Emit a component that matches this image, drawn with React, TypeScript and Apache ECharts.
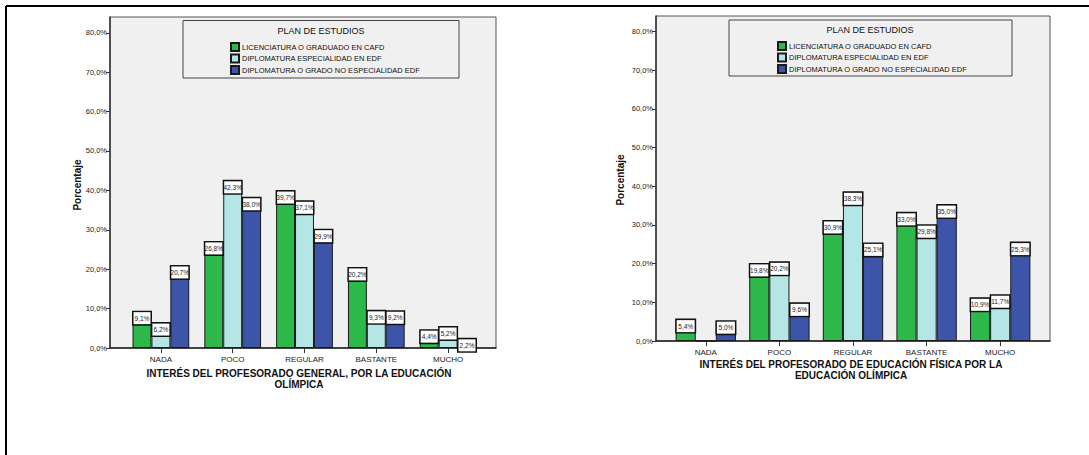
import React, { useEffect, useRef } from "react";
import * as echarts from "echarts";

const categories = ["NADA", "POCO", "REGULAR", "BASTANTE", "MUCHO"];
const seriesNames = [
  "LICENCIATURA O GRADUADO EN CAFD",
  "DIPLOMATURA ESPECIALIDAD EN EDF",
  "DIPLOMATURA O GRADO NO ESPECIALIDAD EDF",
];
const seriesColors = ["#2DB84A", "#B4E6E6", "#3C55A8"];

// Left chart: INTERÉS DEL PROFESORADO GENERAL
const generalCafd = [9.1, 26.8, 39.7, 20.2, 4.4];
const generalEspEdf = [6.2, 42.3, 37.1, 9.3, 5.2];
const generalNoEsp = [20.7, 38.0, 29.9, 9.2, 2.2];

// Right chart: INTERÉS DEL PROFESORADO DE EDUCACIÓN FÍSICA
const efCafd = [5.4, 19.8, 30.9, 33.0, 10.9];
const efEspEdf = [0.0, 20.2, 38.3, 29.8, 11.7];
const efNoEsp = [5.0, 9.6, 25.1, 35.0, 25.3];

const yTicks = [0, 10, 20, 30, 40, 50, 60, 70, 80];
const yMax = 84;

const leftTitle = "INTERÉS DEL PROFESORADO GENERAL, POR LA EDUCACIÓN\nOLÍMPICA";
const rightTitle = "INTERÉS DEL PROFESORADO DE EDUCACIÓN FÍSICA POR LA\nEDUCACIÓN OLÍMPICA";
const yTitle = "Porcentaje";
const legendTitle = "PLAN DE ESTUDIOS";

const FONT = "'Liberation Sans', Arial, sans-serif";

const fmt = (v: number) => v.toFixed(1).replace(".", ",") + "%";

function App() {
  const ref = useRef<HTMLDivElement>(null);

  useEffect(() => {
    document.body.style.margin = "0";
    const chart = echarts.init(ref.current!, null, { renderer: "svg" });

    const frames = [
      { left: 110, top: 17, width: 386, height: 331 },
      { left: 656, top: 16, width: 394, height: 325 },
    ];
    const barGrids = [
      { left: 125, top: 17, width: 359, height: 331 },
      { left: 669, top: 16, width: 368, height: 325 },
    ];

    const grids: any[] = [];
    const xAxes: any[] = [];
    const yAxes: any[] = [];
    frames.forEach((f, i) => {
      grids.push({
        ...f,
        show: true,
        backgroundColor: "#F0F0F0",
        borderColor: "#555",
        borderWidth: 1,
        z: 0,
      });
      grids.push({ ...barGrids[i], show: false });
      const fg = i * 2;
      const bg = i * 2 + 1;
      xAxes.push({
        type: "value",
        gridIndex: fg,
        min: 0,
        max: 1,
        axisLine: { show: true, lineStyle: { color: "#222", width: 1.5 } },
        axisTick: { show: false },
        axisLabel: { show: false },
        splitLine: { show: false },
      });
      xAxes.push({
        type: "category",
        gridIndex: bg,
        data: categories,
        axisLine: { show: false },
        axisTick: { show: true, alignWithLabel: true, length: 5, lineStyle: { color: "#333", width: 1 } },
        axisLabel: { fontSize: 8, color: "#222", margin: 7, fontFamily: FONT },
      });
      yAxes.push({
        type: "value",
        gridIndex: fg,
        min: 0,
        max: yMax,
        interval: 10,
        axisLine: { show: true, lineStyle: { color: "#333", width: 1.5 } },
        axisTick: { show: true, length: 4, customValues: yTicks, lineStyle: { color: "#333", width: 1 } },
        axisLabel: {
          fontSize: 7.5,
          color: "#222",
          margin: 3,
          fontFamily: FONT,
          customValues: yTicks,
          formatter: (v: number) => (v % 10 === 0 ? v.toFixed(1).replace(".", ",") + "%" : ""),
        },
        splitLine: { show: false },
      });
      yAxes.push({
        type: "value",
        gridIndex: bg,
        min: 0,
        max: yMax,
        show: false,
        splitLine: { show: false },
      });
    });

    const leftData = [generalCafd, generalEspEdf, generalNoEsp];
    const rightData = [efCafd, efEspEdf, efNoEsp];

    const mkSeries = (data: number[][], axisIdx: number, labelW: number, gap: string) =>
      data.map((d, k) => ({
        type: "bar",
        name: seriesNames[k],
        xAxisIndex: axisIdx,
        yAxisIndex: axisIdx,
        data: d.map((v) => (v === 0 ? { value: v, label: { show: false } } : v)),
        barGap: "0%",
        barCategoryGap: gap,
        itemStyle: { color: seriesColors[k], borderColor: "#1a1a1a", borderWidth: 1 },
        label: {
          show: true,
          position: "insideTop",
          distance: 0,
          formatter: (p: any) => fmt(p.value),
          fontSize: 6.5,
          lineHeight: 8,
          fontFamily: FONT,
          color: "#222",
          backgroundColor: "#fff",
          borderColor: "#111",
          borderWidth: 1.5,
          padding: [2, 0],
          width: labelW,
          align: "center",
        },
        z: 2,
      }));

    const series = [
      ...mkSeries(leftData, 1, 17, "21%"),
      ...mkSeries(rightData, 3, 18, "18%"),
    ];

    const legendBase = {
      orient: "vertical",
      itemWidth: 8,
      itemHeight: 8,
      itemGap: 1.5,
      padding: 0,
      icon: "rect",
      data: seriesNames,
      textStyle: { fontSize: 7.5, lineHeight: 8, color: "#111", fontFamily: FONT, padding: [0, 0, 0, -2] },
      selectedMode: false,
      z: 10,
    };

    const graphic: any[] = [
      // outer frame
      { type: "line", shape: { x1: 6, y1: 6, x2: 1089, y2: 6 }, style: { stroke: "#000", lineWidth: 2 } },
      { type: "line", shape: { x1: 6, y1: 6, x2: 6, y2: 455 }, style: { stroke: "#000", lineWidth: 2 } },
      // legend boxes
      { type: "rect", shape: { x: 183, y: 20.5, width: 276, height: 57.5 }, style: { fill: "#F0F0F0", stroke: "#444", lineWidth: 1 }, z: 5 },
      { type: "rect", shape: { x: 729, y: 20, width: 283, height: 56 }, style: { fill: "#F0F0F0", stroke: "#444", lineWidth: 1 }, z: 5 },
      { type: "text", x: 321, y: 31, style: { text: legendTitle, font: `9px ${FONT}`, fill: "#111", align: "center", verticalAlign: "middle" }, z: 6 },
      { type: "text", x: 870, y: 30, style: { text: legendTitle, font: `9px ${FONT}`, fill: "#111", align: "center", verticalAlign: "middle" }, z: 6 },
      // y titles
      { type: "text", x: 77, y: 185, rotation: Math.PI / 2, style: { text: yTitle, font: `bold 10px ${FONT}`, fill: "#111", align: "center", verticalAlign: "middle" }, z: 6 },
      { type: "text", x: 620, y: 180, rotation: Math.PI / 2, style: { text: yTitle, font: `bold 10px ${FONT}`, fill: "#111", align: "center", verticalAlign: "middle" }, z: 6 },
      // x titles
      { type: "text", x: 299, y: 368, style: { text: leftTitle, font: `bold 10px ${FONT}`, fill: "#111", align: "center", verticalAlign: "top", lineHeight: 11 }, z: 6 },
      { type: "text", x: 851, y: 359, style: { text: rightTitle, font: `bold 10px ${FONT}`, fill: "#111", align: "center", verticalAlign: "top", lineHeight: 11 }, z: 6 },
    ];

    chart.setOption({
      animation: false,
      backgroundColor: "#fff",
      textStyle: { fontFamily: FONT },
      grid: grids,
      xAxis: xAxes,
      yAxis: yAxes,
      series,
      legend: [
        { ...legendBase, left: 230, top: 42 },
        { ...legendBase, left: 777, top: 41 },
      ],
      graphic,
    });

    return () => chart.dispose();
  }, []);

  return <div ref={ref} style={{ width: 1089, height: 455, background: "#fff" }} />;
}

export default App;
